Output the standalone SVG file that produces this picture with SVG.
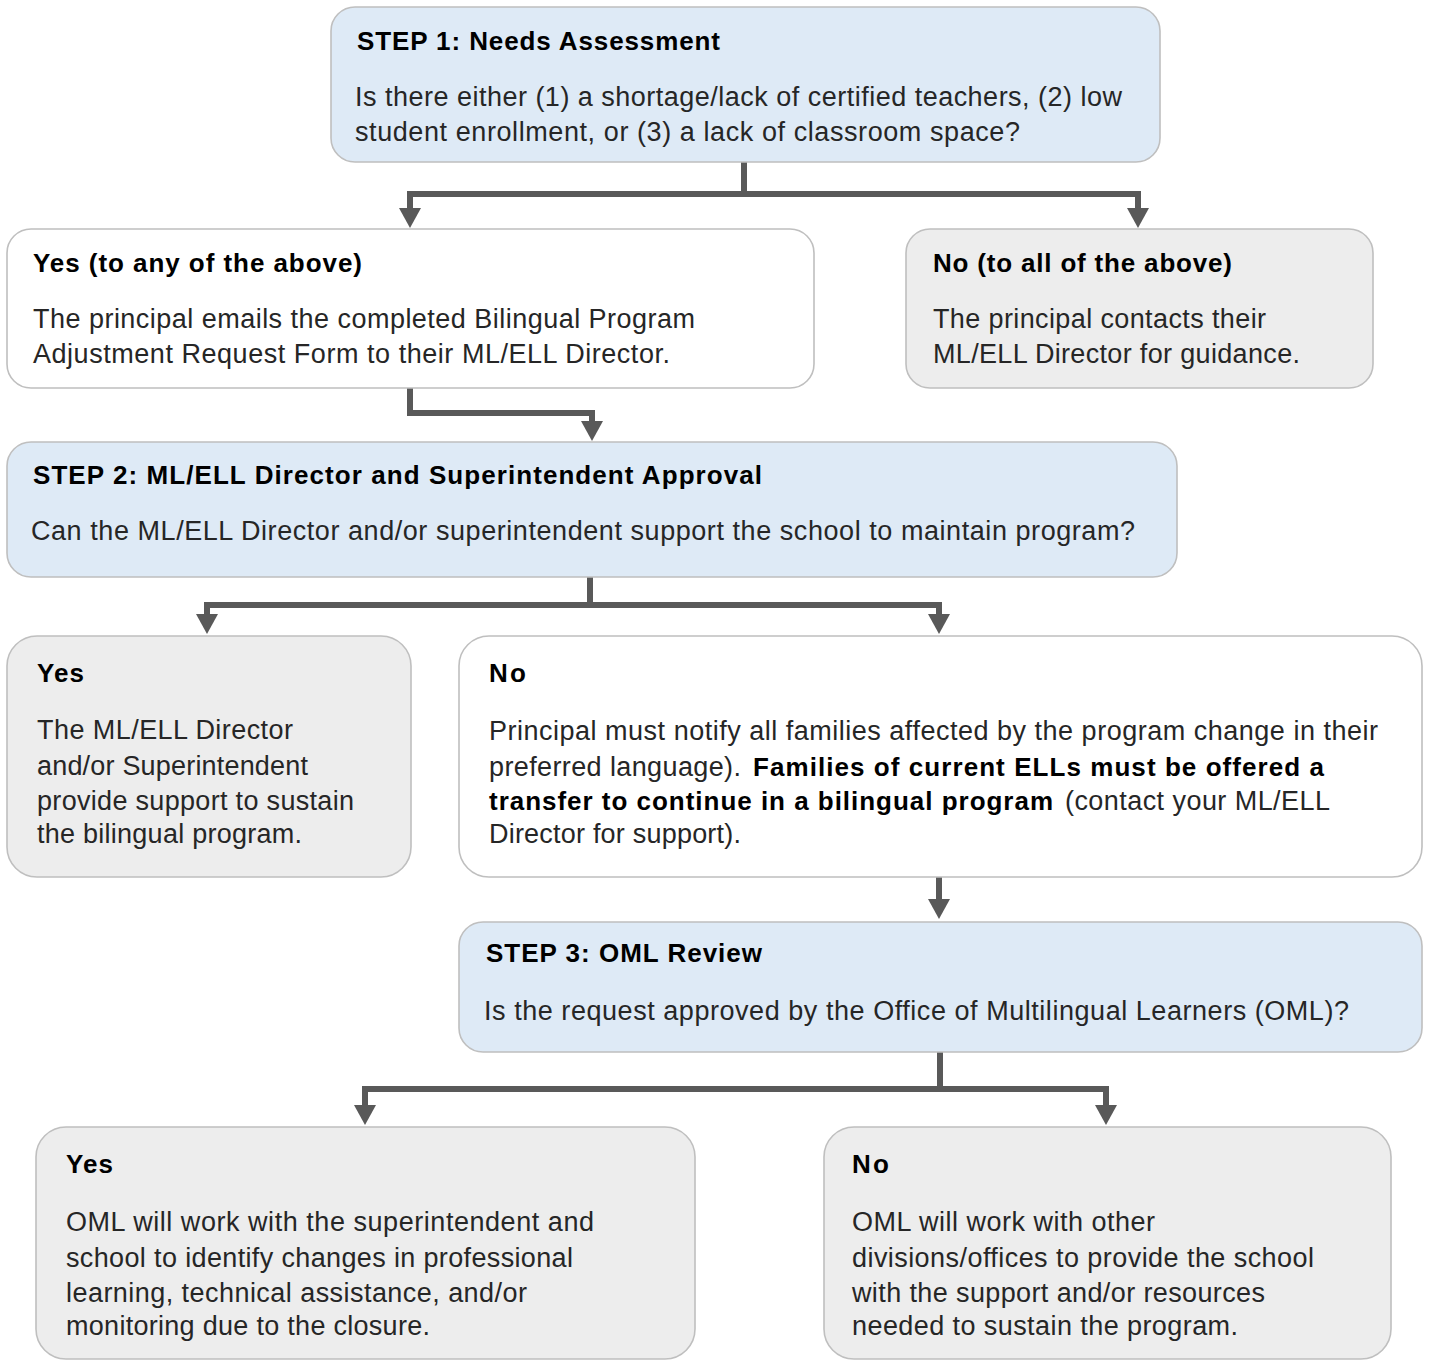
<svg xmlns="http://www.w3.org/2000/svg" width="1430" height="1361" viewBox="0 0 1430 1361">
<defs>
<style>
.box{stroke:#BFBFBF;stroke-width:1.6}
.blue{fill:#DEEAF6}
.white{fill:#FFFFFF}
.gray{fill:#EDEDED}
text{font-family:"Liberation Sans",Arial,sans-serif;font-size:27px}
.t{font-weight:bold;fill:#000;font-size:26px}
.b{fill:#262626}
.bb{font-weight:bold;fill:#000;font-size:26px}
.conn{fill:none;stroke:#595959;stroke-width:6;stroke-linejoin:miter}
</style>
<marker id="arr" viewBox="0 -11 20 22" refX="0" refY="0" markerWidth="20" markerHeight="22" markerUnits="userSpaceOnUse" orient="auto">
<path d="M0,-11 L20,0 L0,11 Z" fill="#595959"/>
</marker>
</defs>
<rect width="1430" height="1361" fill="#FFFFFF"/>

<g id="connectors">
<path class="conn" d="M744,162 V194 H410 V208" marker-end="url(#arr)"/>
<path class="conn" d="M744,194 H1138 V208" marker-end="url(#arr)"/>
<path class="conn" d="M410,388 V413 H592 V421" marker-end="url(#arr)"/>
<path class="conn" d="M590,577 V605 H207 V614" marker-end="url(#arr)"/>
<path class="conn" d="M590,605 H939 V614" marker-end="url(#arr)"/>
<path class="conn" d="M939,877 V899" marker-end="url(#arr)"/>
<path class="conn" d="M940,1052 V1089 H365 V1105" marker-end="url(#arr)"/>
<path class="conn" d="M940,1089 H1106 V1105" marker-end="url(#arr)"/>
</g>

<g id="step1">
<rect class="box blue" x="331" y="7" width="829" height="155" rx="24"/>
<text class="t" x="357" y="50" textLength="363" lengthAdjust="spacing">STEP 1: Needs Assessment</text>
<text class="b" x="355" y="106" textLength="767" lengthAdjust="spacing">Is there either (1) a shortage/lack of certified teachers, (2) low</text>
<text class="b" x="355" y="141" textLength="665" lengthAdjust="spacing">student enrollment, or (3) a lack of classroom space?</text>
</g>

<g id="yes1">
<rect class="box white" x="7" y="229" width="807" height="159" rx="24"/>
<text class="t" x="33" y="272" textLength="329" lengthAdjust="spacing">Yes (to any of the above)</text>
<text class="b" x="33" y="328" textLength="662" lengthAdjust="spacing">The principal emails the completed Bilingual Program</text>
<text class="b" x="33" y="363" textLength="637" lengthAdjust="spacing">Adjustment Request Form to their ML/ELL Director.</text>
</g>

<g id="no1">
<rect class="box gray" x="906" y="229" width="467" height="159" rx="24"/>
<text class="t" x="933" y="272" textLength="299" lengthAdjust="spacing">No (to all of the above)</text>
<text class="b" x="933" y="328" textLength="333" lengthAdjust="spacing">The principal contacts their</text>
<text class="b" x="933" y="363" textLength="367" lengthAdjust="spacing">ML/ELL Director for guidance.</text>
</g>

<g id="step2">
<rect class="box blue" x="7" y="442" width="1170" height="135" rx="24"/>
<text class="t" x="33" y="484" textLength="729" lengthAdjust="spacing">STEP 2: ML/ELL Director and Superintendent Approval</text>
<text class="b" x="31" y="540" textLength="1104" lengthAdjust="spacing">Can the ML/ELL Director and/or superintendent support the school to maintain program?</text>
</g>

<g id="yes2">
<rect class="box gray" x="7" y="636" width="404" height="241" rx="30"/>
<text class="t" x="37" y="682" textLength="47" lengthAdjust="spacing">Yes</text>
<text class="b" x="37" y="739" textLength="256" lengthAdjust="spacing">The ML/ELL Director</text>
<text class="b" x="37" y="775" textLength="271" lengthAdjust="spacing">and/or Superintendent</text>
<text class="b" x="37" y="810" textLength="317" lengthAdjust="spacing">provide support to sustain</text>
<text class="b" x="37" y="843" textLength="265" lengthAdjust="spacing">the bilingual program.</text>
</g>

<g id="no2">
<rect class="box white" x="459" y="636" width="963" height="241" rx="30"/>
<text class="t" x="489" y="682" textLength="37" lengthAdjust="spacing">No</text>
<text class="b" x="489" y="740" textLength="889" lengthAdjust="spacing">Principal must notify all families affected by the program change in their</text>
<text class="b" x="489" y="776" textLength="252" lengthAdjust="spacing">preferred language).</text>
<text class="bb" x="753" y="776" textLength="571" lengthAdjust="spacing">Families of current ELLs must be offered a</text>
<text class="bb" x="489" y="810" textLength="564" lengthAdjust="spacing">transfer to continue in a bilingual program</text>
<text class="b" x="1065" y="810" textLength="265" lengthAdjust="spacing">(contact your ML/ELL</text>
<text class="b" x="489" y="843" textLength="252" lengthAdjust="spacing">Director for support).</text>
</g>

<g id="step3">
<rect class="box blue" x="459" y="922" width="963" height="130" rx="24"/>
<text class="t" x="486" y="962" textLength="276" lengthAdjust="spacing">STEP 3: OML Review</text>
<text class="b" x="484" y="1020" textLength="865" lengthAdjust="spacing">Is the request approved by the Office of Multilingual Learners (OML)?</text>
</g>

<g id="yes3">
<rect class="box gray" x="36" y="1127" width="659" height="232" rx="30"/>
<text class="t" x="66" y="1173" textLength="47" lengthAdjust="spacing">Yes</text>
<text class="b" x="66" y="1231" textLength="528" lengthAdjust="spacing">OML will work with the superintendent and</text>
<text class="b" x="66" y="1267" textLength="507" lengthAdjust="spacing">school to identify changes in professional</text>
<text class="b" x="66" y="1302" textLength="461" lengthAdjust="spacing">learning, technical assistance, and/or</text>
<text class="b" x="66" y="1335" textLength="364" lengthAdjust="spacing">monitoring due to the closure.</text>
</g>

<g id="no3">
<rect class="box gray" x="824" y="1127" width="567" height="232" rx="30"/>
<text class="t" x="852" y="1173" textLength="37" lengthAdjust="spacing">No</text>
<text class="b" x="852" y="1231" textLength="303" lengthAdjust="spacing">OML will work with other</text>
<text class="b" x="852" y="1267" textLength="462" lengthAdjust="spacing">divisions/offices to provide the school</text>
<text class="b" x="852" y="1302" textLength="413" lengthAdjust="spacing">with the support and/or resources</text>
<text class="b" x="852" y="1335" textLength="386" lengthAdjust="spacing">needed to sustain the program.</text>
</g>
</svg>
